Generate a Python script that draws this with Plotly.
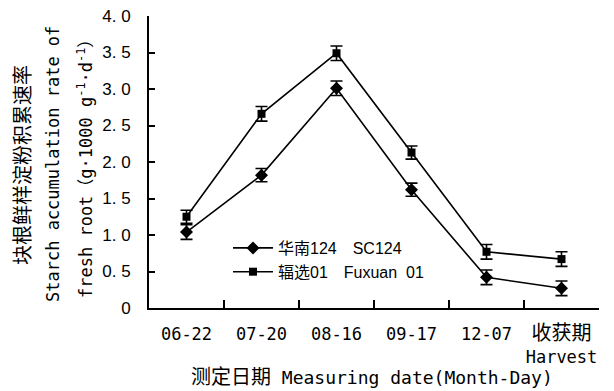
import plotly.graph_objects as go

# Sampling dates (month-day) and harvest
dates = ["06-22", "07-20", "08-16", "09-17", "12-07",
         "<span style='font-size:20px'>收获期</span><br>Harvest"]

# Starch accumulation rate of fresh root, g·1000 g^-1·d^-1
sc124 = [1.04, 1.82, 3.01, 1.62, 0.42, 0.27]
sc124_err = [0.10, 0.09, 0.10, 0.09, 0.10, 0.10]
fuxuan01 = [1.25, 2.66, 3.49, 2.13, 0.77, 0.67]
fuxuan01_err = [0.09, 0.10, 0.10, 0.09, 0.10, 0.10]

y_ticks = [0, 0.5, 1.0, 1.5, 2.0, 2.5, 3.0, 3.5, 4.0]
y_ticktext = ["0", "0. 5", "1. 0", "1. 5", "2. 0", "2. 5", "3. 0", "3. 5", "4. 0"]

names = ["华南124\u3000SC124", "辐选01\u3000Fuxuan\u00a0 01"]

fig = go.Figure()
fig.add_trace(go.Scatter(
    x=dates, y=sc124, name=names[0], mode="lines+markers",
    line=dict(color="black", width=1.6),
    marker=dict(symbol="diamond", size=10, color="black"),
    error_y=dict(type="data", array=sc124_err, color="black", thickness=1.6, width=6),
))
fig.add_trace(go.Scatter(
    x=dates, y=fuxuan01, name=names[1], mode="lines+markers",
    line=dict(color="black", width=1.6),
    marker=dict(symbol="square", size=8, color="black"),
    error_y=dict(type="data", array=fuxuan01_err, color="black", thickness=1.6, width=6),
))

L, R, T, B = 149, 15, 16, 83
W, H = 614, 391
pw, ph = W - L - R, H - T - B


def px_x(px):
    return (px - L) / pw


def px_y(py):
    return (H - B - py) / ph


fig.update_layout(
    width=W, height=H,
    margin=dict(l=L, r=R, t=T, b=B, autoexpand=False),
    paper_bgcolor="white", plot_bgcolor="white",
    font=dict(family="DejaVu Sans Mono, Noto Sans CJK SC", color="black", size=17),
    showlegend=True,
    legend=dict(
        x=px_x(228), y=px_y(231), xanchor="left", yanchor="top",
        bgcolor="rgba(0,0,0,0)", borderwidth=0,
        font=dict(family="Liberation Sans, Noto Sans CJK SC", size=16, color="black"),
        itemwidth=40, tracegroupgap=0,
    ),
    xaxis=dict(
        type="category", range=[-0.5, 5.5], automargin=False, tickangle=0,
        showline=True, linecolor="black", linewidth=2,
        ticks="inside", ticklen=8, tickwidth=1.5, tickcolor="black",
        tickson="boundaries", showgrid=False, zeroline=False,
        tickfont=dict(family="DejaVu Sans Mono, Noto Sans CJK SC", size=17),
        ticklabelstandoff=10,
    ),
    yaxis=dict(
        range=[0, 4], tickmode="array", tickvals=y_ticks, ticktext=y_ticktext,
        automargin=False,
        showline=True, linecolor="black", linewidth=2,
        ticks="inside", ticklen=6, tickwidth=1.5, tickcolor="black",
        showgrid=False, zeroline=False,
        tickfont=dict(family="Liberation Sans", size=17),
        ticklabelstandoff=13,
    ),
    annotations=[
        dict(text="块根鲜样淀粉积累速率", xref="paper", yref="paper",
             x=px_x(22), y=px_y(165), xanchor="center", yanchor="middle",
             textangle=-90, showarrow=False,
             font=dict(family="Noto Sans CJK SC", size=20)),
        dict(text="Starch accumulation rate of", xref="paper", yref="paper",
             x=px_x(53), y=px_y(164), xanchor="center", yanchor="middle",
             textangle=-90, showarrow=False,
             font=dict(family="DejaVu Sans Mono", size=17)),
        dict(text="fresh root（g·1000 g<sup>-1</sup>·d<sup>-1</sup>）",
             xref="paper", yref="paper",
             x=px_x(85), y=px_y(165), xanchor="center", yanchor="middle",
             textangle=-90, showarrow=False,
             font=dict(family="DejaVu Sans Mono, Noto Sans CJK SC", size=17)),
        dict(text="<span style='font-size:20px'>测定日期</span> Measuring date(Month-Day)",
             xref="paper", yref="paper",
             x=px_x(372), y=px_y(377), xanchor="center", yanchor="middle",
             showarrow=False,
             font=dict(family="DejaVu Sans Mono, Noto Sans CJK SC", size=18)),
    ],
)

fig.write_html("out.html")
